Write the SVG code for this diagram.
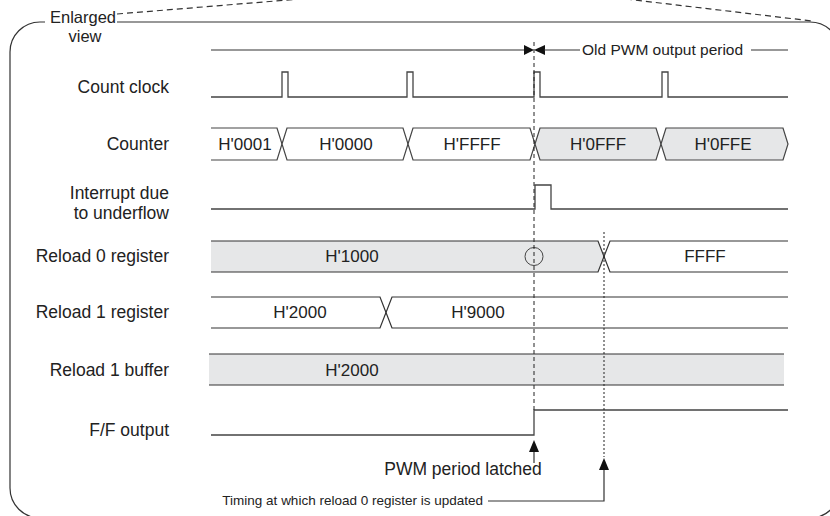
<svg xmlns="http://www.w3.org/2000/svg" width="830" height="516" viewBox="0 0 830 516">
<style>
text{font-family:"Liberation Sans",Arial,sans-serif;fill:#222}
.lbl{font-size:17.5px;text-anchor:end}
.val{font-size:17px;text-anchor:middle}
.w{fill:none;stroke:#444;stroke-width:1.3}
.box{fill:#fff;stroke:#444;stroke-width:1.2}
.gbox{fill:#e6e7e8;stroke:#444;stroke-width:1.2}
.ln{fill:none;stroke:#333;stroke-width:1.2}
</style>
<rect width="830" height="516" fill="#fff"/>
<g id="frame">
<path class="ln" d="M117,22 H810 A30,30 0 0 1 840,52 V488 A30,30 0 0 1 810,518 H40 A30,30 0 0 1 10,488 V52 A30,30 0 0 1 40,22 H45"/>
<path class="ln" stroke-dasharray="6,4" d="M117,14 L300,-1"/>
<path class="ln" stroke-dasharray="6,4" d="M626,-1 L812,21"/>
<text x="50" y="23" style="font-size:16.5px">Enlarged</text>
<text x="85" y="42" style="font-size:16.5px;text-anchor:middle">view</text>
</g>
<g id="labels">
<text class="lbl" x="169" y="93">Count clock</text>
<text class="lbl" x="169" y="150">Counter</text>
<text class="lbl" x="169" y="199">Interrupt due</text>
<text class="lbl" x="169" y="219">to underflow</text>
<text class="lbl" x="169" y="262">Reload 0 register</text>
<text class="lbl" x="169" y="318">Reload 1 register</text>
<text class="lbl" x="169" y="376">Reload 1 buffer</text>
<text class="lbl" x="169" y="436">F/F output</text>
</g>
<g id="period">
<line class="ln" x1="211" y1="50" x2="525" y2="50"/>
<polygon points="524,45 534,50 524,55" fill="#111"/>
<polygon points="545,45 534,50 545,55" fill="#111"/>
<line class="ln" x1="544" y1="50" x2="580" y2="50"/>
<text x="582" y="55" style="font-size:15.5px">Old PWM output period</text>
<line class="ln" x1="751" y1="50" x2="788" y2="50"/>
</g>
<g id="count-clock">
<path class="w" d="M211,97 H282 V72 H288 V97 H407 V72 H413 V97 H534 V72 H540 V97 H662 V72 H668 V97 H788"/>
</g>
<g id="counter">
<path class="box" d="M211,128 H277 L282,144 L277,160 H211"/>
<path class="box" d="M282,144 L287,128 H403 L408,144 L403,160 H287 Z"/>
<path class="box" d="M408,144 L413,128 H530 L535,144 L530,160 H413 Z"/>
<path class="gbox" d="M535,144 L540,128 H656 L661,144 L656,160 H540 Z"/>
<path class="gbox" d="M661,144 L666,128 H783 L788,144 L783,160 H666 Z"/>
<text class="val" x="245" y="150">H'0001</text>
<text class="val" x="346" y="150">H'0000</text>
<text class="val" x="472" y="150">H'FFFF</text>
<text class="val" x="598" y="150">H'0FFF</text>
<text class="val" x="723" y="150">H'0FFE</text>
</g>
<g id="interrupt">
<path class="w" d="M211,209 H535 V185 H551 V209 H788"/>
</g>
<g id="reload0">
<path d="M211,241 H598 L604,256.5 L598,272 H211 Z" fill="#e6e7e8"/>
<path class="ln" d="M211,241 H598 L604,256.5 L598,272 H211"/>
<path class="ln" d="M788,241 H610 L604,256.5 L610,272 H788"/>
<text class="val" x="352" y="262">H'1000</text>
<text class="val" x="705" y="262">FFFF</text>
<circle cx="534" cy="256.5" r="9" fill="none" stroke="#444" stroke-width="1"/>
</g>
<g id="reload1">
<path class="ln" d="M211,297 H380 L386,312.5 L380,328 H211"/>
<path class="ln" d="M788,297 H392 L386,312.5 L392,328 H788"/>
<text class="val" x="300" y="318">H'2000</text>
<text class="val" x="478" y="318">H'9000</text>
</g>
<g id="buffer">
<rect x="209" y="354" width="575" height="31" fill="#e6e7e8"/>
<path class="ln" d="M209,354 H784 M209,385 H784"/>
<text class="val" x="352" y="376">H'2000</text>
</g>
<g id="ff-output">
<path class="w" d="M211,435 H534 V410 H788"/>
</g>
<g id="connectors">
<line x1="534" y1="42" x2="534" y2="410" stroke="#222" stroke-width="1" stroke-dasharray="4,3"/>
<line x1="604" y1="232" x2="604" y2="457" stroke="#222" stroke-width="1" stroke-dasharray="2,2"/>
<line class="ln" x1="534" y1="450" x2="534" y2="463"/>
<polygon points="534,440 529,452 539,452" fill="#111"/>
<text x="463" y="475" style="font-size:17.5px;text-anchor:middle">PWM period latched</text>
<path class="ln" d="M488,501 H604 V468"/>
<polygon points="604,458 599,470 609,470" fill="#111"/>
<text x="483" y="505" style="font-size:13.5px;text-anchor:end">Timing at which reload 0 register is updated</text>
</g>
</svg>
